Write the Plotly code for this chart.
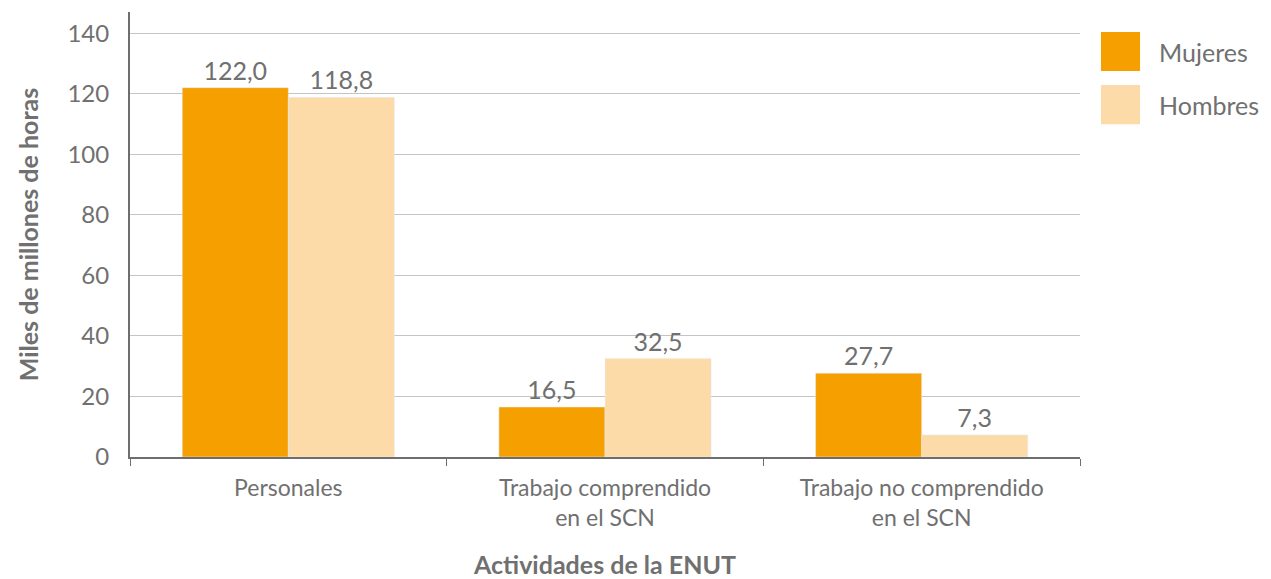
import plotly.graph_objects as go

categories = ["Personales", "Trabajo comprendido<br>en el SCN", "Trabajo no comprendido<br>en el SCN"]
mujeres = [122.0, 16.5, 27.7]
hombres = [118.8, 32.5, 7.3]
labels_m = ["122,0", "16,5", "27,7"]
labels_h = ["118,8", "32,5", "7,3"]
series_names = ["Mujeres", "Hombres"]
y_ticks = [0, 20, 40, 60, 80, 100, 120, 140]

C_M = "#F5A000"
C_H = "#FDDBA8"
GRAY = "#707070"
FONT = "Lato"

fig = go.Figure()
fig.add_trace(go.Bar(x=categories, y=mujeres, name=series_names[0], marker_color=C_M,
                     text=labels_m, textposition="outside", cliponaxis=False,
                     textfont=dict(size=25, color=GRAY, family=FONT), showlegend=False))
fig.add_trace(go.Bar(x=categories, y=hombres, name=series_names[1], marker_color=C_H,
                     text=labels_h, textposition="outside", cliponaxis=False,
                     textfont=dict(size=25, color=GRAY, family=FONT), showlegend=False))

L, T = 122, 4
fig.update_layout(
    width=1263, height=571,
    margin=dict(l=L, r=191, t=T, b=122, autoexpand=False),
    plot_bgcolor="white", paper_bgcolor="white",
    barmode="group", bargap=0.33, bargroupgap=0,
    font=dict(family=FONT, color=GRAY, size=23),
    xaxis=dict(
        showline=True, linecolor="#6e6e6e", linewidth=2,
        ticks="outside", tickson="boundaries", ticklen=7, tickcolor="#6e6e6e",
        tickfont=dict(size=23, color=GRAY),
        ticklabelstandoff=9,
        title=dict(text="<b>Actividades de la ENUT</b>", font=dict(size=25, color=GRAY), standoff=28),
    ),
    yaxis=dict(
        range=[0, 147], tickvals=y_ticks,
        showline=True, linecolor="#6e6e6e", linewidth=2,
        showgrid=True, gridcolor="#c4c4c4", gridwidth=1,
        zeroline=False,
        tickfont=dict(size=24, color=GRAY),
        ticklabelstandoff=14,
        title=dict(text="<b>Miles de millones de horas</b>", font=dict(size=25, color=GRAY), standoff=22),
    ),
)

# legend drawn as squares + labels (paper coords)
sq = [(0.955, 0.8674), (0.836, 0.748)]
for (y1, y0), nm, col in zip(sq, series_names, [C_M, C_H]):
    fig.add_shape(type="rect", xref="paper", yref="paper",
                  x0=1.0221, x1=1.0632, y0=y0, y1=y1, fillcolor=col, line_width=0)
    fig.add_annotation(xref="paper", yref="paper", x=1.081, y=(y0 + y1) / 2, text=nm,
                       showarrow=False, xanchor="left", yanchor="middle",
                       font=dict(size=25, color=GRAY, family=FONT))

fig.write_html("out.html")
